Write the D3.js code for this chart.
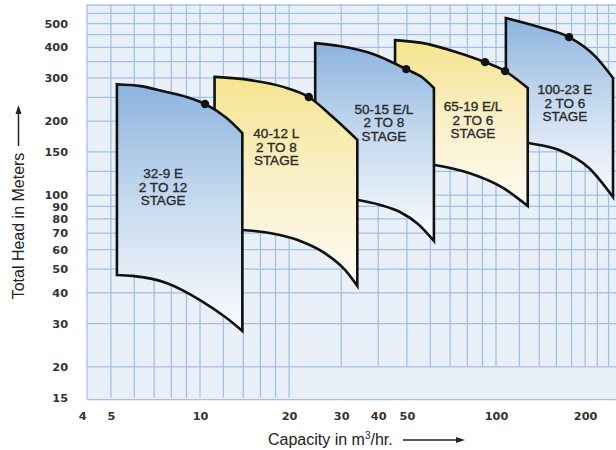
<!DOCTYPE html>
<html>
<head>
<meta charset="utf-8">
<script src="https://cdn.jsdelivr.net/npm/d3@7"></script>
<style>
  html, body { margin: 0; padding: 0; background: #ffffff; }
  svg { display: block; }
</style>
</head>
<body>
<svg id="chart" width="616" height="450"></svg>
<script>
// ---------- data ----------
const capacityTicks = [4, 5, 10, 20, 30, 40, 50, 100, 200];
const headTicks = [15, 20, 30, 40, 50, 60, 70, 80, 90, 100, 150, 200, 300, 400, 500];
const gridCapacityLow = [5, 6, 7, 8, 9, 10, 12, 14, 16, 18, 20];
const gridCapacityHigh = [30, 40, 50, 60, 70, 80, 90, 100, 120, 140, 160, 180, 200, 220, 240];
const gridHead = [20, 30, 40, 50, 60, 70, 80, 90, 100, 125, 150, 200, 250, 300, 350, 400, 450, 500, 550];

const pumpNames = ["32-9 E", "40-12 L", "50-15 E/L", "65-19 E/L", "100-23 E"];
const pumpStages = ["2 TO 12", "2 TO 8", "2 TO 8", "2 TO 6", "2 TO 6"];
const pumpColors = ["blue", "yellow", "blue", "yellow", "blue"];
// [capacity m3/hr, head m] — upper (max stage) curves
const maxHeadCurves = [
  [[5.24, 283], [6.3, 278], [7.7, 263], [9.0, 251], [10.4, 235], [12.3, 206], [13.9, 179]],
  [[11.2, 303], [14.8, 294], [19.1, 276], [23.3, 251], [28.1, 208], [34.0, 168]],
  [[24.5, 416], [29.5, 405], [38.4, 376], [49.7, 326], [56.7, 300], [61.7, 273]],
  [[45.6, 428], [56.7, 416], [73.2, 383], [91.8, 348], [107.3, 320], [128, 273]],
  [[108, 526], [139.7, 484], [176.5, 440], [217.7, 365], [248.5, 300]]
];
// lower (min stage) curves
const minHeadCurves = [
  [[5.24, 47.3], [5.9, 46.9], [7.7, 43.9], [10, 37.4], [12.3, 31.6], [13.9, 28]],
  [[11.2, 73.5], [14, 72.1], [17.2, 70.1], [21.8, 65.1], [26.4, 58.1], [30.9, 49.6], [34.0, 42.7]],
  [[24.5, 99], [34.2, 95.5], [40.6, 91.2], [47.4, 85.4], [54.5, 76.3], [61.7, 65.1]],
  [[45.6, 137], [62, 132.7], [81.1, 123], [105.6, 107], [128, 90.3]],
  [[108, 168], [128.3, 163], [163.3, 152.7], [206.2, 129], [248.5, 98.3]]
];
const labelCapacity = [7.5, 18.1, 41.8, 83.6, 171];
const labelHead = [108, 157, 197.6, 202, 237];
const dotCapacity = [10.4, 23.3, 49.7, 91.8, 107.3, 176.5];
const dotHead = [235, 251, 326, 348, 320, 440];

// ---------- scales ----------
const x = d3.scaleLog().domain([10, 100]).range([200, 496]);
const y = d3.scaleLog().domain([15, 500]).range([397.5, 23.5]);

const svg = d3.select("#chart");
const defs = svg.append("defs");

const grads = {
  blue: [["0%", "#8cb3de"], ["45%", "#c3d8ee"], ["100%", "#fbfcfe"]],
  yellow: [["0%", "#f5e48f"], ["50%", "#faf0c9"], ["100%", "#fefbf5"]]
};
Object.entries(grads).forEach(([k, stops]) => {
  const g = defs.append("linearGradient").attr("id", "g-" + k)
    .attr("x1", 0).attr("y1", 0).attr("x2", 0).attr("y2", 1);
  stops.forEach(s => g.append("stop").attr("offset", s[0]).attr("stop-color", s[1]));
});

// ---------- paper grid ----------
const plotLeft = 87, plotRight = 616, plotTop = 4, plotBottom = 399.5;
svg.append("rect").attr("x", plotLeft).attr("y", plotTop)
  .attr("width", plotRight - plotLeft).attr("height", plotBottom - plotTop)
  .attr("fill", "#e9f0f8");

const grid = svg.append("g").attr("stroke", "#9cc2e9").attr("stroke-width", 1.25).attr("fill", "none");
gridCapacityLow.forEach(v => grid.append("line")
  .attr("x1", x(v)).attr("x2", x(v)).attr("y1", plotTop).attr("y2", y(15)));
gridCapacityHigh.forEach(v => grid.append("line")
  .attr("x1", x(v)).attr("x2", x(v)).attr("y1", plotTop).attr("y2", y(20)));
gridHead.forEach(v => grid.append("line")
  .attr("x1", plotLeft).attr("x2", plotRight).attr("y1", y(v)).attr("y2", y(v)));
grid.append("line").attr("x1", plotLeft).attr("x2", plotRight).attr("y1", plotTop + 1).attr("y2", plotTop + 1);
grid.append("line").attr("x1", plotLeft).attr("x2", plotRight).attr("y1", plotBottom).attr("y2", plotBottom);
grid.append("line").attr("x1", plotLeft).attr("x2", plotLeft).attr("y1", plotTop).attr("y2", plotBottom);

// ---------- pump regions ----------
const line = d3.line().x(d => x(d[0])).y(d => y(d[1])).curve(d3.curveMonotoneX);
const order = [4, 3, 2, 1, 0];
order.forEach(i => {
  const top = line(maxHeadCurves[i]);
  const bot = line(minHeadCurves[i].slice().reverse());
  const d = top + "L" + bot.slice(1) + "Z";
  svg.append("path").attr("d", d)
    .attr("fill", "url(#g-" + pumpColors[i] + ")")
    .attr("stroke", "#111").attr("stroke-width", 2.6).attr("stroke-linejoin", "miter");
  const t = svg.append("text")
    .attr("x", x(labelCapacity[i])).attr("y", y(labelHead[i]))
    .attr("text-anchor", "middle")
    .attr("font-family", "Liberation Sans, Arial, sans-serif")
    .attr("font-size", 13.5).attr("fill", "#2a2a2a")
    .attr("stroke", "#2a2a2a").attr("stroke-width", 0.35);
  [pumpNames[i], pumpStages[i], "STAGE"].forEach((s, k) => {
    t.append("tspan").attr("x", x(labelCapacity[i]))
      .attr("dy", k === 0 ? "-0.65em" : "1.0em").text(s);
  });
});

// dots
svg.append("g").selectAll("circle").data(dotCapacity).join("circle")
  .attr("cx", d => x(d)).attr("cy", (d, i) => y(dotHead[i])).attr("r", 4.2).attr("fill", "#111");

// ---------- axes ----------
const yAxis = d3.axisLeft(y).tickValues(headTicks).tickFormat(d3.format("d")).tickSize(0).tickPadding(19);
const gy = svg.append("g").attr("transform", `translate(${plotLeft},0)`).call(yAxis);
const xAxis = d3.axisBottom(x).tickValues(capacityTicks).tickFormat(d3.format("d")).tickSize(0).tickPadding(12.5);
const gx = svg.append("g").attr("transform", `translate(0,${plotBottom})`).call(xAxis);
[gy, gx].forEach(g => {
  g.select(".domain").remove();
  g.selectAll("text").attr("font-family", "DejaVu Sans, sans-serif")
    .attr("font-weight", "bold").attr("font-size", 11.3).attr("fill", "#333");
});

// axis titles
svg.append("text").attr("transform", "translate(24,226) rotate(-90)")
  .attr("text-anchor", "middle").attr("font-family", "Liberation Sans, Arial, sans-serif")
  .attr("font-size", 16).attr("fill", "#222").text("Total Head in Meters");
svg.append("line").attr("x1", 18.5).attr("x2", 18.5).attr("y1", 146).attr("y2", 113)
  .attr("stroke", "#222").attr("stroke-width", 1.5);
svg.append("path").attr("d", "M18.5,105 L15.5,114 L21.5,114 Z").attr("fill", "#222");

const xt = svg.append("text").attr("x", 268).attr("y", 445)
  .attr("font-family", "Liberation Sans, Arial, sans-serif")
  .attr("font-size", 16).attr("fill", "#222");
xt.append("tspan").text("Capacity in m");
xt.append("tspan").attr("font-size", 10).attr("dy", "-0.6em").text("3");
xt.append("tspan").attr("dy", "0.38em").text("/hr.");
svg.append("line").attr("x1", 403).attr("x2", 456).attr("y1", 440).attr("y2", 440)
  .attr("stroke", "#222").attr("stroke-width", 1.5);
svg.append("path").attr("d", "M465,440 L456,437 L456,443 Z").attr("fill", "#222");
</script>
</body>
</html>
